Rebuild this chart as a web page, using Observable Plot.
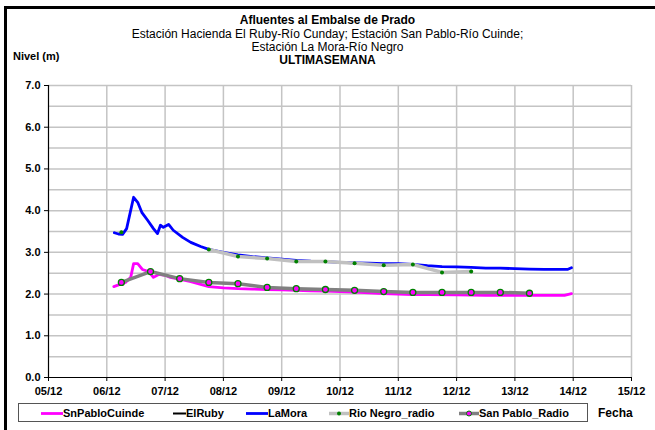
<!DOCTYPE html>
<html>
<head>
<meta charset="utf-8">
<script src="https://cdn.jsdelivr.net/npm/d3@7"></script>
<script src="https://cdn.jsdelivr.net/npm/@observablehq/plot@0.6"></script>
<style>
  html, body { margin: 0; padding: 0; background: #fff; }
  #wrap { position: relative; width: 655px; height: 430px; overflow: hidden; background: #fff;
          font-family: "Liberation Sans", Arial, sans-serif; color: #000; }
  #frame { position: absolute; left: 4px; top: 6px; width: 720px; height: 500px;
           border-left: 3px solid #000; border-top: 3px solid #000; }
  .t { position: absolute; left: 0; width: 655px; text-align: center; font-size: 12px; line-height: 13px; white-space: nowrap; }
  .b { font-weight: bold; }
  #chart { position: absolute; left: 0; top: 0; }
  #chart svg text { font-weight: bold; font-size: 11px; fill: #000; }
  #legend { position: absolute; left: 18px; top: 403px; width: 570px; height: 19px;
            border: 1px solid #555; box-sizing: border-box; }
  .li { position: absolute; top: 0; height: 19px; font-size: 11px; font-weight: bold; line-height: 19px; white-space: nowrap; }
  .li svg { position: absolute; top: 0; }
</style>
</head>
<body>
<div id="wrap">
  <div id="frame"></div>
  <div class="t b" style="top:14px">Afluentes al Embalse de Prado</div>
  <div class="t" style="top:27.5px">Estación Hacienda El Ruby-Río Cunday; Estación San Pablo-Río Cuinde;</div>
  <div class="t" style="top:40.5px">Estación La Mora-Río Negro</div>
  <div class="t b" style="top:54px">ULTIMASEMANA</div>
  <div class="b" style="position:absolute;left:13px;top:50px;font-size:11px;line-height:12px">Nivel (m)</div>
  <div id="chart"></div>
  <div id="legend"></div>
  <div class="b" style="position:absolute;left:598px;top:406px;font-size:12px;line-height:14px">Fecha</div>
</div>
<script>
// ---- data (day of December, level in m) ----
const snPabloCuindeDays = [6.12, 6.32, 6.41, 6.46, 6.53, 6.61, 6.72, 6.80, 6.89, 7.00, 7.09, 7.26, 7.44, 7.75, 8.0, 8.25, 8.5, 8.75, 9.0, 9.25, 9.5, 9.75, 10.0, 10.25, 10.5, 10.75, 11.0, 11.25, 11.5, 12.0, 12.5, 13.0, 13.5, 13.85, 13.97];
const snPabloCuindeVals = [2.18, 2.28, 2.40, 2.73, 2.73, 2.59, 2.54, 2.40, 2.47, 2.45, 2.40, 2.35, 2.30, 2.18, 2.15, 2.13, 2.12, 2.11, 2.10, 2.09, 2.08, 2.07, 2.06, 2.05, 2.03, 2.01, 2.00, 1.99, 1.99, 1.98, 1.97, 1.97, 1.97, 1.97, 2.01];

const elRubyDays = [];
const elRubyVals = [];

const laMoraDays = [6.13, 6.20, 6.27, 6.34, 6.46, 6.53, 6.60, 6.70, 6.80, 6.87, 6.92, 6.97, 7.06, 7.14, 7.30, 7.44, 7.61, 7.75, 8.0, 8.25, 8.5, 8.75, 9.0, 9.25, 9.5, 9.75, 10.0, 10.25, 10.5, 10.75, 11.0, 11.25, 11.5, 11.75, 12.0, 12.25, 12.5, 12.75, 13.0, 13.25, 13.5, 13.75, 13.9, 13.97];
const laMoraVals = [3.47, 3.44, 3.43, 3.57, 4.32, 4.20, 3.96, 3.77, 3.57, 3.45, 3.65, 3.60, 3.67, 3.53, 3.36, 3.24, 3.14, 3.07, 3.00, 2.94, 2.90, 2.87, 2.84, 2.81, 2.79, 2.78, 2.76, 2.75, 2.74, 2.73, 2.73, 2.71, 2.68, 2.66, 2.65, 2.64, 2.62, 2.62, 2.61, 2.60, 2.59, 2.59, 2.59, 2.63];

const rioNegroRadioDays = [6.25, 7.0, 7.75, 8.25, 8.75, 9.25, 9.75, 10.25, 10.75, 11.25, 11.75, 12.25];
const rioNegroRadioVals = [3.48, null, 3.07, 2.90, 2.85, 2.78, 2.78, 2.74, 2.69, 2.71, 2.52, 2.54];

const sanPabloRadioDays = [6.25, 6.75, 7.25, 7.75, 8.25, 8.75, 9.25, 9.75, 10.25, 10.75, 11.25, 11.75, 12.25, 12.75, 13.25];
const sanPabloRadioVals = [2.28, 2.54, 2.37, 2.28, 2.25, 2.16, 2.13, 2.11, 2.09, 2.06, 2.04, 2.04, 2.04, 2.04, 2.02];

const xTickDays = [5, 6, 7, 8, 9, 10, 11, 12, 13, 14, 15];
const xTickLabels = ["05/12", "06/12", "07/12", "08/12", "09/12", "10/12", "11/12", "12/12", "13/12", "14/12", "15/12"];
const yTicks = [0, 1, 2, 3, 4, 5, 6, 7];
const yGrid = [0.5, 1, 1.5, 2, 2.5, 3, 3.5, 4, 4.5, 5, 5.5, 6, 6.5, 7];

const legendNames = ["SnPabloCuinde", "ElRuby", "LaMora", "Rio Negro_radio", "San Pablo_Radio"];

// ---- build tables ----
const zip = (ds, vs) => ds.map((d, i) => ({d, v: vs[i] == null ? NaN : vs[i]}));
const snPablo = zip(snPabloCuindeDays, snPabloCuindeVals);
const elRuby = zip(elRubyDays, elRubyVals);
const laMora = zip(laMoraDays, laMoraVals);
const rioNegro = zip(rioNegroRadioDays, rioNegroRadioVals);
const sanPablo = zip(sanPabloRadioDays, sanPabloRadioVals);
const fmtX = d => xTickLabels[xTickDays.indexOf(d)];

const chart = Plot.plot({
  width: 655,
  height: 400,
  marginTop: 85,
  marginBottom: 23,
  marginLeft: 48,
  marginRight: 24,
  style: {fontFamily: "Liberation Sans, Arial, sans-serif", background: "transparent", overflow: "visible"},
  x: {domain: [5, 15]},
  y: {domain: [0, 7]},
  marks: [
    Plot.gridY(yGrid, {stroke: "#c4c4c4", strokeOpacity: 1, strokeWidth: 1.5}),
    Plot.gridX(xTickDays.slice(1), {stroke: "#c4c4c4", strokeOpacity: 1, strokeWidth: 1.5}),
    Plot.ruleY([0], {stroke: "#000", strokeWidth: 1.2}),
    Plot.ruleX([5], {stroke: "#000", strokeWidth: 1.2}),
    Plot.axisX(xTickDays, {tickFormat: fmtX, tickSize: 4, tickPadding: 6, fontSize: 11, fontWeight: "bold", label: null}),
    Plot.axisY(yTicks, {tickFormat: d => d.toFixed(1), tickSize: 4, tickPadding: 4, fontSize: 11, fontWeight: "bold", label: null}),
    Plot.line(snPablo, {x: "d", y: "v", stroke: "#ff00ff", strokeWidth: 2.8}),
    Plot.line(elRuby, {x: "d", y: "v", stroke: "#000", strokeWidth: 2}),
    Plot.line(laMora, {x: "d", y: "v", stroke: "#0000ff", strokeWidth: 2.8}),
    Plot.line(rioNegro, {x: "d", y: "v", stroke: "#c0c0c0", strokeWidth: 3.5}),
    Plot.dot(rioNegro.filter(p => !isNaN(p.v)), {x: "d", y: "v", r: 2, fill: "#008000", stroke: "none"}),
    Plot.line(sanPablo, {x: "d", y: "v", stroke: "#808080", strokeWidth: 3.5}),
    Plot.dot(sanPablo, {x: "d", y: "v", r: 3, fill: "#ff00ff", stroke: "#008000", strokeWidth: 1.3})
  ]
});
document.getElementById("chart").appendChild(chart);

// ---- legend ----
const legendPos = [[22, 44], [154, 167], [227, 249], [310, 330], [440, 460]];
const legendSw = [
  {stroke: "#ff00ff", w: 2.8, dot: null},
  {stroke: "#000", w: 2, dot: null},
  {stroke: "#0000ff", w: 2.8, dot: null},
  {stroke: "#c0c0c0", w: 3.5, dot: {fill: "#008000", stroke: "none", r: 2}},
  {stroke: "#808080", w: 3.5, dot: {fill: "#ff00ff", stroke: "#008000", r: 2.5}}
];
const leg = document.getElementById("legend");
legendNames.forEach((name, i) => {
  const [sx, tx] = legendPos[i];
  const sw = legendSw[i];
  const wdt = tx - sx;
  const item = document.createElement("div");
  item.className = "li";
  item.style.left = sx + "px";
  let svg = `<svg width="${wdt}" height="19" style="left:0"><line x1="0" x2="${wdt}" y1="9.5" y2="9.5" stroke="${sw.stroke}" stroke-width="${sw.w}"/>`;
  if (sw.dot) svg += `<circle cx="${wdt / 2}" cy="9.5" r="${sw.dot.r}" fill="${sw.dot.fill}" stroke="${sw.dot.stroke}" stroke-width="1"/>`;
  svg += `</svg>`;
  item.innerHTML = svg + `<span style="position:absolute;left:${wdt}px">${name}</span>`;
  leg.appendChild(item);
});
</script>
</body>
</html>
